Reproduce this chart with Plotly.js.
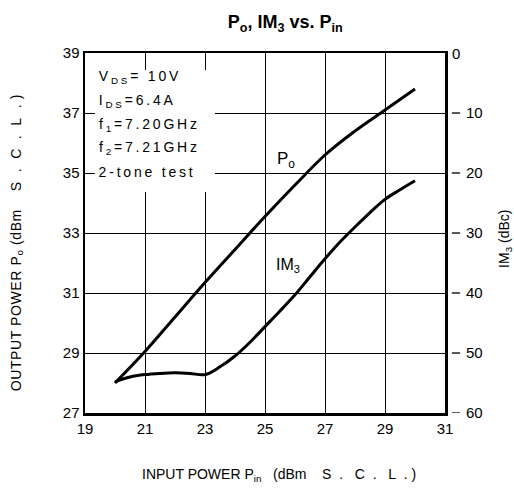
<!DOCTYPE html>
<html><head><meta charset="utf-8">
<script src="https://cdn.plot.ly/plotly-3.0.1.min.js"></script>
<style>
body{margin:0;background:#fff}
#chart g.annotation[data-index="0"] text,
#chart g.annotation[data-index="1"] text,
#chart g.annotation[data-index="2"] text,
#chart g.annotation[data-index="3"] text,
#chart g.annotation[data-index="4"] text{letter-spacing:2.8px}
#chart g.annotation[data-index="8"] text{letter-spacing:0.6px}
</style>
</head><body><div id="chart" style="width:514px;height:492px"></div>
<script>
// Output power Po (left axis, dBm) vs input power Pin
const poPin = [20, 21, 22, 23, 24, 25, 26, 27, 28, 29, 30];
const poValues = [28.0, 29.05, 30.2, 31.35, 32.45, 33.55, 34.6, 35.6, 36.4, 37.1, 37.8];

// IM3 (right axis, dBc) vs input power Pin
const imPin = [20, 20.5, 21, 21.5, 22, 22.5, 23, 23.5, 24, 24.5, 25, 25.5, 26, 26.5, 27, 27.5, 28, 28.5, 29, 29.5, 30];
const imValues = [-54.8, -54.0, -53.6, -53.4, -53.3, -53.4, -53.6, -52.3, -50.5, -48.2, -45.6, -43.0, -40.3, -37.3, -34.3, -31.5, -29.0, -26.6, -24.4, -22.8, -21.3];

// Tick labels
const xTicks = [19, 21, 23, 25, 27, 29, 31];
const yTicks = [27, 29, 31, 33, 35, 37, 39];
const y2Ticks = [-60, -50, -40, -30, -20, -10, 0];
const y2TickText = ['60', '50', '40', '30', '20', '10', ''];

// Conditions text
const conditions = ['V<sub>DS</sub>= 10V', 'I<sub>DS</sub>=6.4A', 'f<sub>1</sub>=7.20GHz', 'f<sub>2</sub>=7.21GHz', '2-tone test'];
const conditionY = [38.2, 37.4, 36.6, 35.83, 35.03];

const FONT = 'Liberation Sans, Arial, Helvetica, sans-serif';
const NB = '\u00a0';
const sp = n => NB.repeat(n);

const traces = [
  {x: poPin, y: poValues, type: 'scatter', mode: 'lines', yaxis: 'y',
   line: {color: '#000', width: 3, shape: 'spline'}, hoverinfo: 'skip'},
  {x: imPin, y: imValues, type: 'scatter', mode: 'lines', yaxis: 'y2',
   line: {color: '#000', width: 3, shape: 'spline'}, hoverinfo: 'skip'}
];

const annotations = conditions.map((t, i) => ({
  text: t, x: 19.4, y: conditionY[i], xref: 'x', yref: 'y',
  xanchor: 'left', yanchor: 'middle', showarrow: false,
  xshift: t.replace(/<[^>]+>/g, '').length * 1.4,
  font: {family: FONT, size: 14, color: '#000'}
}));

const xSclText = sp(2) + '(dBm' + sp(4) + 'S' + sp(2) + '.' + sp(3) + 'C' + sp(2) + '.' + sp(3) + 'L' + sp(2) + '.' + sp(1) + ')';
const ySclText = '(dBm' + sp(4) + 'S' + sp(2) + '.' + sp(2) + 'C' + sp(2) + '.' + sp(2) + 'L' + sp(2) + '.' + sp(1) + ')';

annotations.push(
  {text: 'P<sub>o</sub>', x: 25.7, y: 35.43, xref: 'x', yref: 'y', showarrow: false,
   font: {family: FONT, size: 17, color: '#000'}},
  {text: 'IM<sub>3</sub>', x: 25.75, y: 31.93, xref: 'x', yref: 'y', showarrow: false,
   font: {family: FONT, size: 16, color: '#000'}},
  {text: 'INPUT POWER P<sub>in</sub> ' + xSclText, x: 0.153, y: -0.172,
   xref: 'paper', yref: 'paper', xanchor: 'left', yanchor: 'middle', showarrow: false,
   font: {family: FONT, size: 14, color: '#000'}},
  {text: 'OUTPUT POWER P<sub>o</sub> ' + ySclText, x: -0.19, y: 0.472,
   xref: 'paper', yref: 'paper', xanchor: 'center', yanchor: 'middle', textangle: -90, showarrow: false,
   font: {family: FONT, size: 14, color: '#000'}},
  {text: 'IM<sub>3</sub> (dBc)', x: 1.166, y: 0.483,
   xref: 'paper', yref: 'paper', xanchor: 'center', yanchor: 'middle', textangle: -90, showarrow: false,
   font: {family: FONT, size: 14, color: '#000'}},
  {text: '0', x: 1.013, y: 0, xref: 'paper', yref: 'y2', xanchor: 'left', yanchor: 'middle', showarrow: false,
   font: {family: FONT, size: 15, color: '#000'}}
);

const shapes = [
  {type: 'rect', xref: 'x', yref: 'y', x0: 19.33, x1: 23.33, y0: 34.37, y1: 38.43,
   fillcolor: '#fff', line: {width: 0}, layer: 'above'}
];
y2Ticks.filter(v => v !== 0).forEach(v => {
  shapes.push({type: 'line', xref: 'paper', yref: 'y2', x0: 1.019, x1: 1.042, y0: v, y1: v,
               line: {color: '#000', width: 1.3}, layer: 'above'});
});

const layout = {
  width: 514, height: 492,
  margin: {l: 85, r: 69, t: 53, b: 79},
  paper_bgcolor: '#fff', plot_bgcolor: '#fff',
  showlegend: false,
  font: {family: FONT, size: 14, color: '#000'},
  title: {text: '<b>P<sub>o</sub>, IM<sub>3</sub> vs. P<sub>in</sub></b>', x: 0.555, xref: 'container',
          y: 0.955, yref: 'container', xanchor: 'center', yanchor: 'middle',
          font: {family: FONT, size: 18, color: '#000'}},
  xaxis: {range: [19, 31], tickvals: xTicks, ticktext: xTicks.map(String),
          showgrid: true, gridcolor: '#000', gridwidth: 1, zeroline: false,
          showline: true, linecolor: '#000', linewidth: 2.5, mirror: true, ticks: '',
          tickfont: {family: FONT, size: 15, color: '#000'}, fixedrange: true},
  yaxis: {range: [27, 39], tickvals: yTicks, ticktext: yTicks.map(String),
          showgrid: true, gridcolor: '#000', gridwidth: 1, zeroline: false,
          showline: true, linecolor: '#000', linewidth: 2.5, mirror: true, ticks: '',
          tickfont: {family: FONT, size: 15, color: '#000'}, fixedrange: true},
  yaxis2: {range: [-60, 0], overlaying: 'y', side: 'right', tickvals: y2Ticks, ticktext: y2TickText,
           showgrid: false, zeroline: false, showline: false, ticks: '', ticklabelstandoff: 20,
           tickfont: {family: FONT, size: 15, color: '#000'}, fixedrange: true},
  shapes: shapes,
  annotations: annotations
};

Plotly.newPlot('chart', traces, layout, {displayModeBar: false, staticPlot: true});
</script></body></html>
